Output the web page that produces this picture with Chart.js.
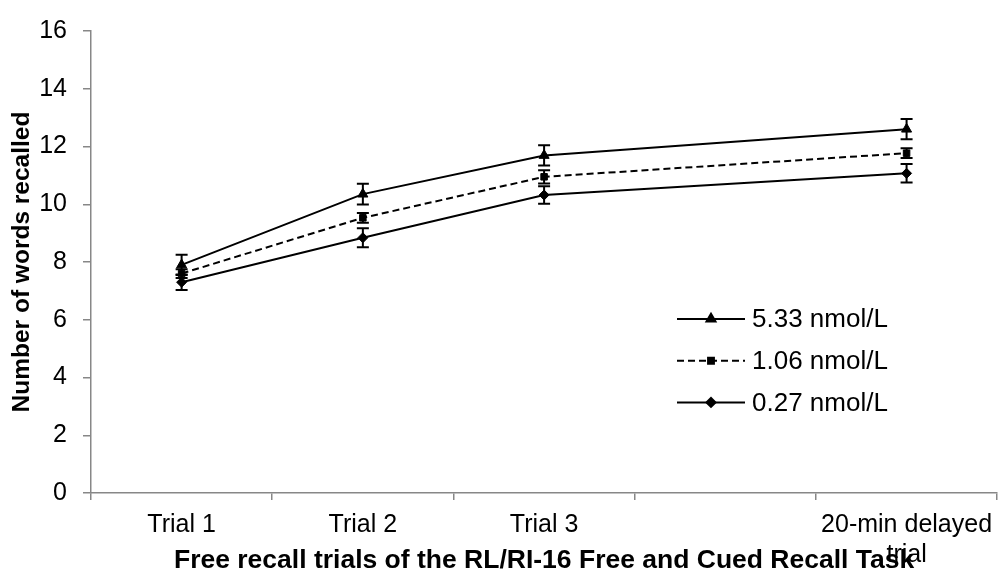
<!DOCTYPE html>
<html>
<head>
<meta charset="utf-8">
<script src="https://cdn.jsdelivr.net/npm/chart.js@4/dist/chart.umd.min.js"></script>
<style>
  html, body { margin: 0; padding: 0; background: #fff; }
  #wrap { width: 1004px; height: 574px; position: relative; }
</style>
</head>
<body>
<div id="wrap"><canvas id="recallChart"></canvas></div>
<script>
// Words recalled per trial, three dose groups
const trials = ['Trial 1', 'Trial 2', 'Trial 3', '', ['20-min delayed', 'trial']];
const seriesNames = ['5.33 nmol/L', '1.06 nmol/L', '0.27 nmol/L'];

const high = [7.9, 10.35, 11.69, null, 12.6];
const highErr = [0.35, 0.36, 0.35, null, 0.35];
const mid = [7.6, 9.53, 10.95, null, 11.77];
const midErr = [0.15, 0.17, 0.23, null, 0.17];
const low = [7.3, 8.84, 10.32, null, 11.07];
const lowErr = [0.27, 0.33, 0.3, null, 0.32];

const yTicks = [0, 2, 4, 6, 8, 10, 12, 14, 16];

const FONT = '"Liberation Sans", Arial, sans-serif';
const AXIS_GREY = '#878787';

Chart.defaults.color = '#000';
Chart.defaults.font.family = FONT;

function drawMarker(ctx, style, radius, x, y) {
  if (Chart.helpers && Chart.helpers.drawPoint) {
    ctx.fillStyle = '#000';
    ctx.strokeStyle = '#000';
    Chart.helpers.drawPoint(ctx, { pointStyle: style, radius: radius, rotation: 0, borderWidth: 1 }, x, y);
    return;
  }
  ctx.beginPath();
  ctx.arc(x, y, radius, 0, Math.PI * 2);
  ctx.fill();
}

// error bars drawn with the y scale
const errorBars = {
  id: 'errorBars',
  afterDatasetsDraw(chart) {
    const ctx = chart.ctx;
    const yScale = chart.scales.y;
    ctx.save();
    ctx.strokeStyle = '#000';
    ctx.lineWidth = 2;
    chart.data.datasets.forEach((ds, i) => {
      const meta = chart.getDatasetMeta(i);
      meta.data.forEach((pt, j) => {
        const v = ds.data[j];
        const e = ds.errors[j];
        if (v == null || e == null) return;
        const top = yScale.getPixelForValue(v + e);
        const bot = yScale.getPixelForValue(v - e);
        const cap = 6;
        ctx.beginPath();
        ctx.moveTo(pt.x, top); ctx.lineTo(pt.x, bot);
        ctx.moveTo(pt.x - cap, top); ctx.lineTo(pt.x + cap, top);
        ctx.moveTo(pt.x - cap, bot); ctx.lineTo(pt.x + cap, bot);
        ctx.stroke();
      });
    });
    ctx.restore();
  }
};

// legend inside the plot, lower right
const insideLegend = {
  id: 'insideLegend',
  afterDraw(chart) {
    const ctx = chart.ctx;
    const x0 = 677, x1 = 745, textX = 752, top = 319, gap = 41.7;
    ctx.save();
    chart.data.datasets.forEach((ds, i) => {
      const y = top + i * gap;
      ctx.strokeStyle = '#000';
      ctx.lineWidth = 2;
      ctx.setLineDash(ds.borderDash || []);
      ctx.beginPath();
      ctx.moveTo(x0, y); ctx.lineTo(x1, y);
      ctx.stroke();
      ctx.setLineDash([]);
      drawMarker(ctx, ds.pointStyle, ds.pointRadius * 0.9, (x0 + x1) / 2, y);
      ctx.fillStyle = '#000';
      ctx.font = '26px ' + FONT;
      ctx.textAlign = 'left';
      ctx.textBaseline = 'middle';
      ctx.fillText(ds.label, textX, y + 1);
    });
    ctx.restore();
  }
};

function makeSet(label, values, errors, style, radius, dash) {
  return {
    label: label,
    data: values,
    errors: errors,
    borderColor: '#000',
    backgroundColor: '#000',
    borderWidth: 2,
    borderDash: dash,
    pointStyle: style,
    pointRadius: radius,
    pointBorderWidth: 1,
    pointBackgroundColor: '#000',
    pointBorderColor: '#000',
    tension: 0,
    spanGaps: true
  };
}

new Chart(document.getElementById('recallChart'), {
  type: 'line',
  data: {
    labels: trials,
    datasets: [
      makeSet(seriesNames[0], high, highErr, 'triangle', 5.8, []),
      makeSet(seriesNames[1], mid, midErr, 'rect', 4.6, [7, 4]),
      makeSet(seriesNames[2], low, lowErr, 'rectRot', 5, [])
    ]
  },
  options: {
    responsive: true,
    maintainAspectRatio: false,
    animation: false,
    layout: { padding: { top: 24, right: 3, left: 0, bottom: 0 } },
    plugins: {
      legend: { display: false },
      tooltip: { enabled: false }
    },
    scales: {
      x: {
        type: 'category',
        offset: true,
        afterFit: s => { s.height = 81; },
        grid: {
          offset: true,
          drawOnChartArea: false,
          color: AXIS_GREY,
          lineWidth: 1.5,
          tickLength: 7
        },
        border: { color: AXIS_GREY, width: 1.5 },
        ticks: {
          color: '#000',
          font: { size: 25, lineHeight: 1.2 },
          padding: 10,
          maxRotation: 0,
          autoSkip: false
        },
        title: {
          display: true,
          text: 'Free recall trials of the RL/RI-16 Free and Cued Recall Task',
          color: '#000',
          font: { size: 26.5, weight: 'bold', lineHeight: 1 },
          padding: { top: 0, bottom: 0 }
        }
      },
      y: {
        min: 0,
        max: 16,
        afterFit: s => { s.width = 91; },
        afterBuildTicks: s => { s.ticks = yTicks.map(v => ({ value: v })); },
        grid: {
          drawOnChartArea: false,
          color: AXIS_GREY,
          lineWidth: 1.5,
          tickLength: 8
        },
        border: { color: AXIS_GREY, width: 1.5 },
        ticks: {
          color: '#000',
          font: { size: 25 },
          padding: 16
        },
        title: {
          display: true,
          text: 'Number of words recalled',
          color: '#000',
          font: { size: 24.5, weight: 'bold', lineHeight: 1.2 },
          padding: { top: 8, bottom: 0 }
        }
      }
    }
  },
  plugins: [errorBars, insideLegend]
});
</script>
</body>
</html>
